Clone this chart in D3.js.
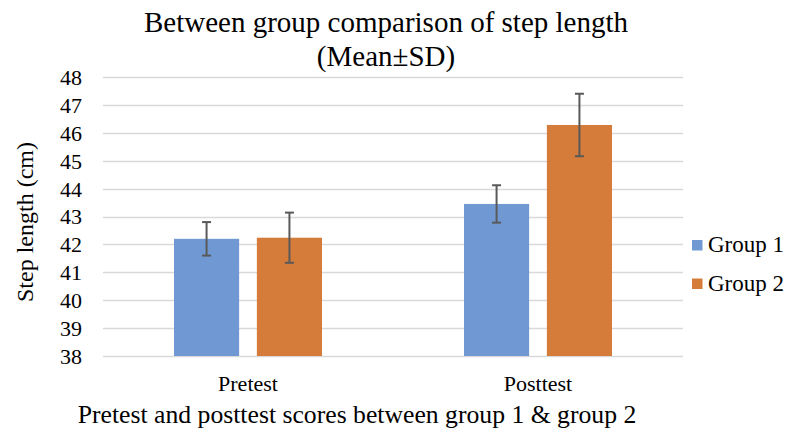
<!DOCTYPE html>
<html>
<head>
<meta charset="utf-8">
<script src="https://cdn.jsdelivr.net/npm/d3@7"></script>
<style>
  body { margin: 0; background: #fff; }
</style>
</head>
<body>
<div id="chart"></div>
<script>
// chart values
var categories = ["Pretest", "Posttest"];
var groups = ["Group 1", "Group 2"];
var group1Mean = [42.2, 43.45];
var group1SD = [0.6, 0.67];
var group2Mean = [42.24, 46.28];
var group2SD = [0.9, 1.12];
var yTicks = [38, 39, 40, 41, 42, 43, 44, 45, 46, 47, 48];

var font = "'Liberation Serif', 'Times New Roman', serif";
var width = 786, height = 432;
var margin = {top: 77, right: 103, bottom: 76, left: 103};

var svg = d3.select("#chart")
	.append("svg")
		.attr("width", width)
		.attr("height", height)
		.style("font-family", font);

var g = svg.append("g")
	.attr("transform", "translate(" + margin.left + "," + margin.top + ")");

var w = width - margin.left - margin.right;
var h = height - margin.top - margin.bottom;

var color = d3.scaleOrdinal()
	.domain(groups)
	.range(["#7099d3", "#d67c3b"]);

var y = d3.scaleLinear()
	.domain([38, 48])
	.range([h, 0]);

var x0 = d3.scaleBand()
	.domain(categories)
	.range([0, w])
	.paddingInner(0)
	.paddingOuter(0);

var x1 = d3.scaleBand()
	.domain(groups)
	.range([71, x0.bandwidth() - 71])
	.paddingInner(0.214);

// build rows from the arrays
var rows = categories.map(function(c, i) {
	return {
		cat: c,
		values: [
			{group: groups[0], mean: group1Mean[i], sd: group1SD[i]},
			{group: groups[1], mean: group2Mean[i], sd: group2SD[i]}
		]
	};
});

// gridlines
g.append("g")
	.selectAll("line")
	.data(yTicks)
	.enter()
	.append("line")
		.attr("x1", 0)
		.attr("x2", w)
		.attr("y1", function(d) { return Math.round(y(d)) + 0.5; })
		.attr("y2", function(d) { return Math.round(y(d)) + 0.5; })
		.attr("stroke", "#d9d9d9")
		.attr("stroke-width", 1.3);

// y axis labels
var yAxis = g.append("g")
	.call(d3.axisLeft(y).tickValues(yTicks).tickSize(0).tickPadding(21));
yAxis.attr("font-family", null);
yAxis.select(".domain").remove();
yAxis.selectAll("text")
	.style("font-family", font)
	.style("font-size", "22px")
	.attr("dy", "0.34em")
	.attr("fill", "#000");

// x axis labels
var xAxis = g.append("g")
	.attr("transform", "translate(0," + h + ")")
	.call(d3.axisBottom(x0).tickSize(0).tickPadding(0));
xAxis.attr("font-family", null);
xAxis.select(".domain").remove();
xAxis.selectAll("text")
	.style("font-family", font)
	.style("font-size", "22px")
	.attr("dy", null)
	.attr("y", 35)
	.attr("fill", "#000");

// bars
var cat = g.selectAll(".cat")
	.data(rows)
	.enter()
	.append("g")
		.attr("transform", function(d) { return "translate(" + x0(d.cat) + ",0)"; });

cat.selectAll("rect")
	.data(function(d) { return d.values; })
	.enter()
	.append("rect")
		.attr("x", function(d) { return x1(d.group); })
		.attr("y", function(d) { return y(d.mean); })
		.attr("width", x1.bandwidth())
		.attr("height", function(d) { return h - y(d.mean); })
		.attr("fill", function(d) { return color(d.group); });

// error bars
var err = cat.selectAll(".err")
	.data(function(d) { return d.values; })
	.enter()
	.append("g")
		.attr("stroke", "#595959")
		.attr("stroke-width", 2);

err.append("line")
	.attr("x1", function(d) { return x1(d.group) + x1.bandwidth() / 2; })
	.attr("x2", function(d) { return x1(d.group) + x1.bandwidth() / 2; })
	.attr("y1", function(d) { return y(d.mean + d.sd); })
	.attr("y2", function(d) { return y(d.mean - d.sd); });
err.append("line")
	.attr("x1", function(d) { return x1(d.group) + x1.bandwidth() / 2 - 4.5; })
	.attr("x2", function(d) { return x1(d.group) + x1.bandwidth() / 2 + 4.5; })
	.attr("y1", function(d) { return y(d.mean + d.sd); })
	.attr("y2", function(d) { return y(d.mean + d.sd); });
err.append("line")
	.attr("x1", function(d) { return x1(d.group) + x1.bandwidth() / 2 - 4.5; })
	.attr("x2", function(d) { return x1(d.group) + x1.bandwidth() / 2 + 4.5; })
	.attr("y1", function(d) { return y(d.mean - d.sd); })
	.attr("y2", function(d) { return y(d.mean - d.sd); });

// title
svg.append("text")
	.attr("x", 386)
	.attr("y", 32)
	.attr("text-anchor", "middle")
	.style("font-family", font)
	.style("font-size", "29px")
	.text("Between group comparison of step length");
svg.append("text")
	.attr("x", 386)
	.attr("y", 66)
	.attr("text-anchor", "middle")
	.style("font-family", font)
	.style("font-size", "29px")
	.text("(Mean\u00B1SD)");

// axis titles
svg.append("text")
	.attr("transform", "translate(33,222)rotate(-90)")
	.attr("text-anchor", "middle")
	.style("font-family", font)
	.style("font-size", "24px")
	.text("Step length (cm)");
svg.append("text")
	.attr("x", 357)
	.attr("y", 423)
	.attr("text-anchor", "middle")
	.style("font-family", font)
	.style("font-size", "25.7px")
	.text("Pretest and posttest scores between group 1 & group 2");

// legend
var legend = svg.selectAll(".legend")
	.data(groups)
	.enter()
	.append("g")
		.attr("transform", function(d, i) { return "translate(692," + (240 + i * 38.5) + ")"; });
legend.append("rect")
	.attr("width", 10.5)
	.attr("height", 10.5)
	.attr("fill", function(d) { return color(d); });
legend.append("text")
	.attr("x", 16)
	.attr("y", 12)
	.style("font-family", font)
	.style("font-size", "23px")
	.text(function(d) { return d; });
</script>
</body>
</html>
